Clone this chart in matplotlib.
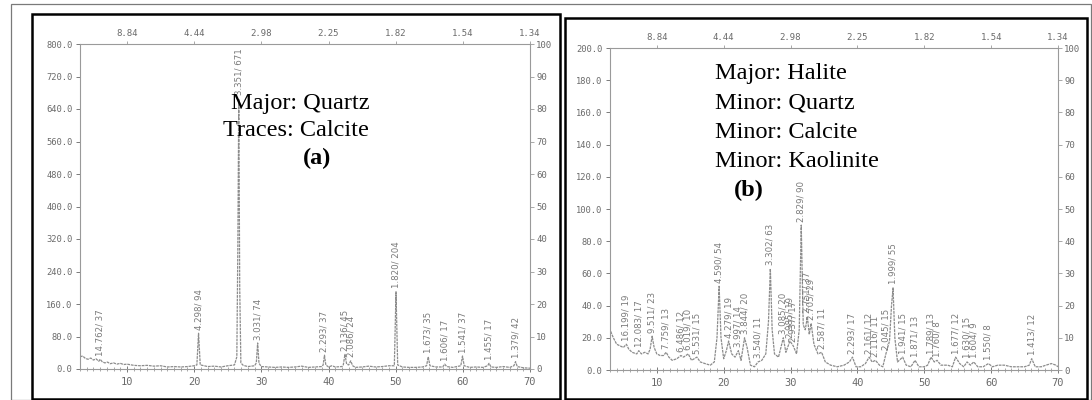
import matplotlib
matplotlib.use("Agg")
import matplotlib.pyplot as plt
from matplotlib.patches import Rectangle
from matplotlib.ticker import MultipleLocator

# ---------------- data (panel a) ----------------
a_x = [3.0, 3.4, 3.8, 4.2, 4.6, 5.0, 5.4, 5.8, 6.0, 6.3, 6.7, 7.1, 7.5, 8.0, 8.5, 9.0, 9.5,
       10.0, 11.0, 12.0, 13.0, 14.0, 15.0, 16.0, 17.0, 18.0, 19.0, 20.0, 20.4, 20.65, 20.9,
       21.5, 22.0, 23.0, 24.0, 25.0, 26.0, 26.35, 26.5, 26.64, 26.78, 26.95, 27.3, 28.0, 29.0,
       29.25, 29.45, 29.65, 30.0, 31.0, 32.0, 33.0, 34.0, 35.0, 36.0, 37.0, 38.0, 39.0, 39.2,
       39.4, 39.6, 40.0, 40.5, 41.0, 42.0, 42.2, 42.45, 42.7, 43.0, 43.3, 43.6, 44.0, 45.0,
       46.0, 47.0, 48.0, 49.0, 49.8, 50.05, 50.3, 51.0, 52.0, 53.0, 54.0, 54.6, 54.85, 55.1,
       56.0, 57.0, 57.3, 57.6, 58.5, 59.7, 59.95, 60.2, 61.0, 62.0, 63.0, 63.7, 63.9, 64.2,
       65.0, 66.0, 67.0, 67.6, 67.85, 68.1, 69.0, 70.0]
a_y = [30, 32, 26, 24, 27, 22, 25, 19, 24, 18, 15, 17, 13, 15, 12, 14, 11,
       12, 9, 8, 9, 7, 8, 5, 6, 5, 6, 8, 10, 88, 10,
       8, 6, 7, 5, 8, 10, 30, 300, 665, 200, 15, 9, 6, 8,
       15, 64, 14, 6, 5, 4, 5, 4, 5, 7, 4, 5, 6, 10,
       34, 10, 5, 8, 5, 6, 10, 36, 12, 10, 20, 8, 4, 5,
       7, 5, 6, 8, 8, 190, 10, 5, 4, 4, 5, 8, 30, 8,
       5, 5, 12, 6, 4, 8, 32, 8, 4, 5, 4, 8, 14, 5,
       4, 6, 4, 8, 18, 6, 3, 2]
a_peak_x = [6.0, 20.65, 26.64, 29.45, 39.4, 42.45, 43.3, 50.05, 54.85, 57.3, 59.95, 63.9, 67.85]
a_peak_y = [24, 88, 665, 64, 34, 36, 20, 190, 30, 12, 32, 14, 18]
a_peak_labels = ["14.762/ 37", "4.298/ 94", "3.351/ 671", "3.031/ 74", "2.293/ 37",
                 "2.136/ 45", "2.086/ 24", "1.820/ 204", "1.673/ 35", "1.606/ 17",
                 "1.541/ 37", "1.455/ 17", "1.379/ 42"]
a_yticks = [0, 80, 160, 240, 320, 400, 480, 560, 640, 720, 800]
a_texts = ["Major: Quartz", "Traces: Calcite"]

# ---------------- data (panel b) ----------------
b_x = [3.1, 3.5, 4.0, 4.5, 5.0, 5.45, 5.8, 6.3, 7.0, 7.3, 7.7, 8.2, 8.7, 9.0, 9.3, 9.6,
       10.0, 10.5, 11.0, 11.4, 11.8, 12.3, 13.0, 13.6, 14.0, 14.7, 15.2, 16.0, 16.5, 17.2,
       18.0, 18.6, 19.0, 19.32, 19.6, 20.0, 20.4, 20.74, 21.2, 21.7, 22.2, 22.6, 23.12, 23.5,
       24.0, 24.6, 25.14, 25.7, 26.3, 26.7, 26.98, 27.25, 27.6, 28.2, 28.92, 29.3, 29.91,
       30.4, 30.9, 31.3, 31.6, 31.9, 32.2, 32.52, 32.8, 33.08, 33.5, 34.1, 34.65, 35.2, 36.0,
       37.0, 38.0, 38.8, 39.26, 39.8, 40.5, 41.2, 41.76, 42.2, 42.7, 43.3, 43.8, 44.26, 44.8,
       45.1, 45.33, 45.6, 46.0, 46.77, 47.3, 48.0, 48.62, 49.2, 50.0, 50.5, 51.01, 51.5,
       51.91, 52.5, 53.5, 54.2, 54.69, 55.3, 55.9, 56.4, 56.9, 57.4, 58.0, 58.8, 59.6, 60.2,
       61.0, 62.0, 63.0, 64.0, 65.0, 65.7, 66.07, 66.6, 67.5, 68.2, 69.0, 69.7, 70.0]
b_y = [24, 20, 16, 15, 14, 16, 13, 11, 10, 12, 10, 11, 10, 13, 21, 14,
       10, 9, 9, 11, 8, 6, 7, 9, 8, 10, 6, 8, 5, 4,
       3, 5, 20, 52, 20, 7, 12, 18, 10, 8, 12, 6, 20, 14,
       3, 2, 5, 6, 10, 30, 63, 25, 10, 8, 20, 11, 18,
       15, 10, 25, 90, 28, 25, 33, 22, 29, 16, 10, 11, 5, 3,
       2, 3, 5, 8, 2, 2, 4, 8, 5, 6, 3, 2, 10, 18,
       40, 51, 20, 5, 8, 3, 2, 6, 2, 2, 3, 8, 5,
       6, 3, 3, 2, 8, 4, 2, 5, 3, 5, 2, 2, 4, 2,
       3, 3, 2, 2, 2, 3, 7, 2, 2, 3, 4, 3, 2]
b_peak_x = [5.45, 7.3, 9.3, 11.4, 13.6, 14.7, 16.0, 19.32, 20.74, 22.2, 23.12, 25.14,
            26.98, 28.92, 29.91, 30.4, 31.6, 32.52, 33.08, 34.65, 39.26, 41.76, 42.7,
            44.26, 45.33, 46.77, 48.62, 51.01, 51.91, 54.69, 56.4, 57.4, 59.6, 66.07]
b_peak_y = [16, 12, 21, 11, 9, 10, 8, 52, 18, 12, 20, 5,
            63, 20, 18, 15, 90, 33, 29, 11, 8, 8, 6,
            10, 51, 8, 6, 8, 6, 8, 5, 5, 4, 7]
b_peak_labels = ["16.199/ 19", "12.083/ 17", "9.511/ 23", "7.759/ 13", "6.486/ 12",
                 "6.019/ 10", "5.531/ 15", "4.590/ 54", "4.279/ 19", "3.997/ 14",
                 "3.844/ 20", "3.540/ 11", "3.302/ 63", "3.085/ 20", "2.985/ 19",
                 "2.937/ 17", "2.829/ 90", "2.751/ 37", "2.705/ 29", "2.587/ 11",
                 "2.293/ 17", "2.161/ 12", "2.116/ 11", "2.045/ 15", "1.999/ 55",
                 "1.941/ 15", "1.871/ 13", "1.789/ 13", "1.760/ 8", "1.677/ 12",
                 "1.630/ 15", "1.604/ 9", "1.550/ 8", "1.413/ 12"]
b_yticks = [0, 20, 40, 60, 80, 100, 120, 140, 160, 180, 200]
b_texts = ["Major: Halite", "Minor: Quartz", "Minor: Calcite", "Minor: Kaolinite"]

# shared axis labels
two_theta_ticks = [10, 20, 30, 40, 50, 60, 70]
d_labels = ["8.84", "4.44", "2.98", "2.25", "1.82", "1.54", "1.34"]
right_ticks = [0, 10, 20, 30, 40, 50, 60, 70, 80, 90, 100]

# ---------------- drawing ----------------
W, H = 1092, 400
fig = plt.figure(figsize=(W / 100, H / 100), dpi=100)
fig.patch.set_facecolor("white")

GRAY_LINE = "#8c8c8c"
GRAY_TXT = "#6a6a6a"
MONO = "DejaVu Sans Mono"


def px_rect(x0, y0, x1, y1):
    return [x0 / W, 1 - y1 / H, (x1 - x0) / W, (y1 - y0) / H]


def draw_panel(rect, xs, ys, ymax, yticks, pk_x, pk_y, pk_lab):
    ax = fig.add_axes(px_rect(*rect))
    ax.plot(xs, ys, color=GRAY_LINE, lw=0.9, linestyle=(0, (2.2, 0.7)))
    ax.set_xlim(3, 70)
    ax.set_ylim(0, ymax)
    ax.set_yticks(yticks)
    ax.set_yticklabels([f"{v:.1f}" for v in yticks])
    ax.set_xticks(two_theta_ticks)
    ax.xaxis.set_minor_locator(MultipleLocator(1))
    for lab_text, x, y in zip(pk_lab, pk_x, pk_y):
        ax.annotate(lab_text, xy=(x, y), xytext=(0, 2.5), textcoords="offset points",
                    rotation=90, ha="center", va="bottom", fontsize=6.2,
                    color="#7a7a7a", family="DejaVu Sans")
    for s in ax.spines.values():
        s.set_color("#9a9a9a")
        s.set_linewidth(0.8)
    ax.spines["top"].set_linestyle((0, (3, 1)))
    ax.tick_params(axis="both", which="major", labelsize=6.3, colors="#7a7a7a",
                   labelcolor=GRAY_TXT, length=3, width=0.7, pad=2.5)
    ax.tick_params(axis="x", which="major", direction="inout", length=5, pad=3,
                   labelsize=7.5, labelfontfamily=MONO)
    ax.tick_params(axis="x", which="minor", direction="inout", length=3, width=0.6,
                   colors="#9a9a9a")
    ax.tick_params(axis="y", labelfontfamily=MONO)
    # top axis with d-spacings
    top = ax.secondary_xaxis("top")
    top.set_xticks(two_theta_ticks)
    top.set_xticklabels(d_labels)
    top.tick_params(length=2, width=0.6, colors="#9a9a9a", labelcolor=GRAY_TXT,
                    labelsize=6.5, pad=2, labelfontfamily=MONO)
    top.spines["top"].set_visible(False)
    # right axis 0..100
    r = ax.twinx()
    r.set_ylim(0, 100)
    r.set_yticks(right_ticks)
    r.tick_params(length=3, width=0.6, colors="#9a9a9a", labelcolor=GRAY_TXT,
                  labelsize=6.5, pad=1.5, labelfontfamily=MONO)
    for s in r.spines.values():
        s.set_visible(False)
    return ax


draw_panel((80, 44, 530, 369), a_x, a_y, 800, a_yticks, a_peak_x, a_peak_y, a_peak_labels)
draw_panel((610, 48, 1058, 370), b_x, b_y, 200, b_yticks, b_peak_x, b_peak_y, b_peak_labels)

# panel frames
fig.patches.append(Rectangle((11 / W, 0), 1080 / W, 396 / H, transform=fig.transFigure,
                             fill=False, edgecolor="#7a7a7a", lw=0.9))
fig.patches.append(Rectangle((32 / W, 1 / H), 528 / W, 385 / H, transform=fig.transFigure,
                             fill=False, edgecolor="black", lw=1.8))
fig.patches.append(Rectangle((565 / W, 1 / H), 522 / W, 381 / H, transform=fig.transFigure,
                             fill=False, edgecolor="black", lw=1.8))

SERIF = "Liberation Serif"
# panel (a) annotations
fig.text(300 / W, 1 - 103 / H, a_texts[0], fontsize=17.5, family=SERIF, ha="center", va="center")
fig.text(296 / W, 1 - 130 / H, a_texts[1], fontsize=17.5, family=SERIF, ha="center", va="center")
fig.text(317 / W, 1 - 158 / H, "(a)", fontsize=17.5, family=SERIF, weight="bold",
         ha="center", va="center")
# panel (b) annotations
for i, t in enumerate(b_texts):
    fig.text(715 / W, 1 - (74 + 29 * i) / H, t, fontsize=17.5, family=SERIF,
             ha="left", va="center")
fig.text(749 / W, 1 - 190 / H, "(b)", fontsize=17.5, family=SERIF, weight="bold",
         ha="center", va="center")

fig.savefig("out.png", dpi=100)
